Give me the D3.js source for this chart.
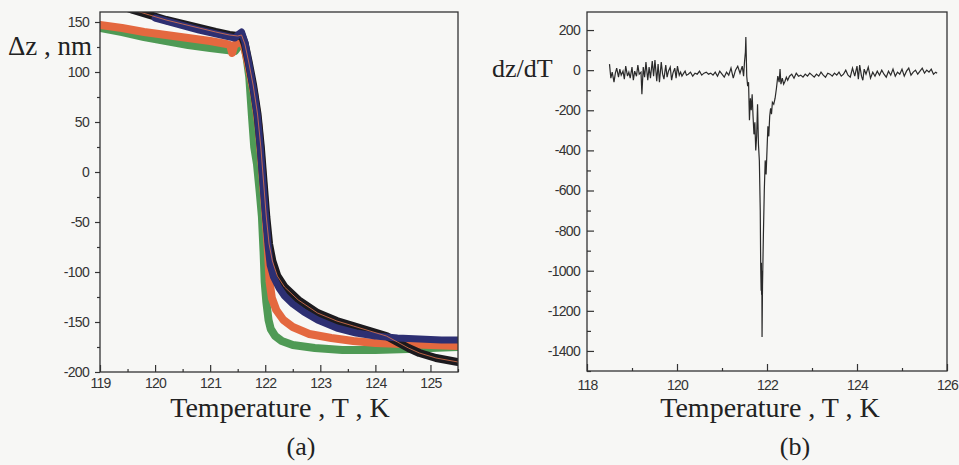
<!doctype html>
<meta charset="utf-8">
<title>Delta z and dz/dT vs temperature</title>
<style>
  body { margin: 0; background: #f7f7f5; }
  svg { display: block; }
  .tick text { font-family: "Liberation Sans", Arial, sans-serif; fill: #333; letter-spacing: -0.7px; }
  .tick line { stroke: #333; stroke-width: 1.2; }
  .title { font-family: "Liberation Serif", "Times New Roman", serif; fill: #222; }
</style>
<svg id="visual" width="959" height="465"></svg>
<script src="https://cdn.jsdelivr.net/npm/d3@7"></script>
<script>

// (panel a data) [T, dz nm]
var blackData = [
  [119.00, 176], [119.30, 168], [119.60, 162], [119.90, 157], [120.20, 152], [120.50, 148],
  [120.80, 144], [121.10, 140], [121.35, 137], [121.50, 136], [121.57, 137], [121.63, 128],
  [121.70, 110], [121.78, 87], [121.86, 58], [121.92, 25], [121.97, -10], [122.02, -45],
  [122.07, -72], [122.13, -89], [122.22, -104], [122.35, -115], [122.60, -128], [122.95, -141],
  [123.30, -149], [123.60, -154], [123.90, -159], [124.20, -164], [124.40, -170], [124.60, -176],
  [124.80, -181], [125.10, -186], [125.50, -190]
];
var blueData = [
  [120.00, 154], [120.40, 148], [120.80, 142], [121.20, 137], [121.45, 134], [121.52, 138],
  [121.57, 140], [121.63, 130], [121.68, 115], [121.73, 100], [121.80, 78], [121.86, 55],
  [121.91, 25], [121.95, -5], [122.00, -40], [122.05, -73], [122.09, -93], [122.15, -105],
  [122.25, -116], [122.35, -124], [122.50, -132], [122.70, -140], [122.95, -148], [123.30, -156],
  [123.65, -161], [124.00, -164], [124.40, -166], [124.80, -167], [125.20, -168], [125.50, -168]
];
var orangeData = [
  [119.00, 147], [119.40, 144], [119.80, 140], [120.20, 137], [120.60, 134], [121.00, 131],
  [121.30, 128], [121.36, 127], [121.40, 119], [121.44, 127], [121.50, 129], [121.56, 131], [121.62, 125],
  [121.70, 105], [121.80, 78], [121.88, 45], [121.94, 5], [122.00, -40], [122.05, -80],
  [122.08, -110], [122.12, -126], [122.20, -138], [122.33, -148], [122.50, -155], [122.80, -162],
  [123.20, -166], [123.60, -169], [124.00, -171], [124.50, -172], [125.00, -173], [125.50, -174]
];
var greenData = [
  [119.00, 144], [119.40, 140], [119.80, 135], [120.20, 131], [120.60, 127], [121.00, 124],
  [121.30, 122], [121.45, 121], [121.52, 126], [121.56, 129], [121.61, 128], [121.66, 115],
  [121.71, 95], [121.76, 55], [121.80, 25], [121.85, 8], [121.90, -20], [121.94, -45],
  [121.97, -80], [121.99, -110], [122.02, -130], [122.06, -148], [122.10, -157], [122.18, -164],
  [122.30, -169], [122.50, -173], [122.90, -176], [123.40, -178], [124.00, -178], [124.60, -177],
  [125.00, -176], [125.50, -175]
];

// (panel b data) [T, dz/dT]
var dzdtData = [
  [118.50, 30], [118.53, -40], [118.56, -10], [118.60, -60], [118.63, -15], [118.66, 10],
  [118.70, -35], [118.73, 5], [118.76, -25], [118.80, -5], [118.83, -45], [118.86, 20],
  [118.90, -30], [118.93, -10], [118.96, -40], [119.00, 15], [119.03, -50], [119.06, -5],
  [119.10, -30], [119.13, 25], [119.16, -20], [119.20, -10], [119.22, -120], [119.25, 15],
  [119.28, -35], [119.31, 40], [119.35, -50], [119.38, 15], [119.41, -40], [119.45, 45],
  [119.48, -30], [119.51, 50], [119.55, -55], [119.58, 30], [119.61, -60], [119.65, 40],
  [119.68, -20], [119.71, -45], [119.75, 25], [119.78, -35], [119.81, -5], [119.85, 15],
  [119.88, -50], [119.91, -15], [119.95, 10], [119.98, -40], [120.01, 20], [120.05, -25],
  [120.08, -10], [120.11, -30], [120.15, -15], [120.18, -5], [120.21, -25], [120.25, -20],
  [120.30, -10], [120.35, -30], [120.40, -15], [120.45, -20], [120.50, -5], [120.55, -25],
  [120.60, -15], [120.65, -10], [120.70, -20], [120.75, -15], [120.80, -25], [120.85, -10],
  [120.90, -30], [120.95, -5], [121.00, -20], [121.05, -35], [121.10, -10], [121.15, -25],
  [121.20, 10], [121.25, -40], [121.30, 0], [121.35, 20], [121.40, -15],
  [121.45, 20], [121.48, -30], [121.50, 40], [121.52, 90], [121.53, 165], [121.55, -30],
  [121.57, -80], [121.59, -60], [121.61, -250], [121.63, -140], [121.65, -200], [121.67, -120],
  [121.69, -230], [121.71, -320], [121.73, -260], [121.75, -400], [121.77, -330], [121.79, -170],
  [121.81, -370], [121.83, -450], [121.85, -700], [121.86, -980], [121.87, -1100], [121.875, -960],
  [121.88, -1120], [121.885, -1000], [121.89, -1330], [121.90, -1080], [121.92, -820], [121.94, -600],
  [121.96, -450], [121.98, -520], [122.00, -400], [122.02, -280], [122.04, -330], [122.06, -230],
  [122.08, -190], [122.10, -220], [122.12, -160], [122.15, -170], [122.18, -140], [122.21, -90],
  [122.24, -30], [122.27, -60], [122.29, 5], [122.31, -70], [122.34, -40], [122.37, -70],
  [122.40, -55], [122.43, -35], [122.46, -50], [122.50, -30], [122.55, -20], [122.60, -40],
  [122.65, -15], [122.70, -30], [122.75, -25], [122.80, -35], [122.85, -20], [122.90, -30],
  [122.95, -15], [123.00, -25], [123.05, -35], [123.10, -20], [123.15, -30], [123.20, -10],
  [123.25, -25], [123.30, -35], [123.35, -15], [123.40, -20], [123.45, -30], [123.50, -15],
  [123.55, -25], [123.60, -10], [123.65, -30], [123.70, -20], [123.75, 0], [123.80, -25],
  [123.85, -35], [123.90, 10], [123.95, -30], [124.00, 20], [124.03, -45], [124.06, 25],
  [124.10, -30], [124.13, -50], [124.16, 5], [124.20, -20], [124.25, 15], [124.30, -40],
  [124.35, -10], [124.40, -30], [124.45, -5], [124.50, -25], [124.55, 0], [124.60, -20],
  [124.65, -35], [124.70, -5], [124.75, -25], [124.80, 5], [124.85, -30], [124.90, -10],
  [124.95, -20], [125.00, 5], [125.05, -30], [125.10, -5], [125.15, 10], [125.20, -25],
  [125.25, -10], [125.30, 0], [125.35, -20], [125.40, -5], [125.45, 10], [125.50, -15],
  [125.55, 0], [125.60, -10], [125.65, 5], [125.70, -20], [125.75, -10], [125.78, -15]
];

// (ticks)
var aXTicks = [119, 120, 121, 122, 123, 124, 125];
var aXMinor = [119.5, 120.5, 121.5, 122.5, 123.5, 124.5, 125.5];
var aYTicks = [-200, -150, -100, -50, 0, 50, 100, 150];
var aYMinor = [-175, -125, -75, -25, 25, 75, 125];
var bXTicks = [118, 120, 122, 124, 126];
var bXMinor = [119, 121, 123, 125];
var bYTicks = [-1400, -1200, -1000, -800, -600, -400, -200, 0, 200];
var bYMinor = [-1500, -1300, -1100, -900, -700, -500, -300, -100, 100];

var svg = d3.select("#visual");

// (panel a scales)
var xa = d3.scaleLinear().domain([119, 125.5]).range([100, 458]);
var ya = d3.scaleLinear().domain([-200, 160]).range([372, 12]);

// (panel b scales)
var xb = d3.scaleLinear().domain([118, 126]).range([587, 947]);
var yb = d3.scaleLinear().domain([-1500, 290]).range([371, 12]);

svg.append("clipPath").attr("id", "clipA")
  .append("rect").attr("x", 100).attr("y", 12).attr("width", 358).attr("height", 360);

var lineA = d3.line()
  .x(function(d) { return xa(d[0]); })
  .y(function(d) { return ya(d[1]); });

var gA = svg.append("g").attr("clip-path", "url(#clipA)");

var seriesA = [
  {data: greenData, color: "#4f9a55", w: 8},
  {data: orangeData, color: "#e4683f", w: 8},
  {data: blackData, color: "#1c1a1e", w: 8},
  {data: blueData, color: "#2d2f72", w: 7}
];

seriesA.forEach(function(s) {
  gA.append("path")
    .attr("d", lineA(s.data))
    .attr("fill", "none")
    .attr("stroke", s.color)
    .attr("stroke-width", s.w)
    .attr("stroke-linejoin", "round")
    .attr("stroke-linecap", "round");
});

// thin fit line on top
gA.append("path")
  .attr("d", lineA(blackData))
  .attr("fill", "none")
  .attr("stroke", "#e2764e")
  .attr("stroke-width", 1)
  .attr("opacity", 0.8);

// (panel b line)
var lineB = d3.line()
  .x(function(d) { return xb(d[0]); })
  .y(function(d) { return yb(d[1]); });

svg.append("path")
  .attr("d", lineB(dzdtData))
  .attr("fill", "none")
  .attr("stroke", "#2a2a2a")
  .attr("stroke-width", 1.2);

// (axes helper)
var fmt = function(d) { return String(d); };

function addAxis(axis, tx, ty) {
  var g = svg.append("g").attr("transform", "translate(" + tx + "," + ty + ")").call(axis);
  g.select(".domain").remove();
  g.selectAll(".tick text").attr("font-size", 14).attr("font-family", null);
  return g;
}

// panel a axes
addAxis(d3.axisBottom(xa).tickValues(aXTicks).tickSize(-7).tickPadding(6).tickFormat(fmt), 0, 372);
addAxis(d3.axisBottom(xa).tickValues(aXMinor).tickSize(-3).tickFormat(""), 0, 372);
addAxis(d3.axisLeft(ya).tickValues(aYTicks).tickSize(5).tickPadding(6).tickFormat(fmt), 100, 0);
addAxis(d3.axisLeft(ya).tickValues(aYMinor).tickSize(3).tickFormat(""), 100, 0);

// panel b axes
addAxis(d3.axisBottom(xb).tickValues(bXTicks).tickSize(-7).tickPadding(9).tickFormat(fmt), 0, 371);
addAxis(d3.axisBottom(xb).tickValues(bXMinor).tickSize(-3).tickFormat(""), 0, 371);
addAxis(d3.axisLeft(yb).tickValues(bYTicks).tickSize(-7).tickPadding(7).tickFormat(fmt), 587, 0);
addAxis(d3.axisLeft(yb).tickValues(bYMinor).tickSize(-4).tickFormat(""), 587, 0);

// frames
svg.append("rect").attr("x", 100).attr("y", 12).attr("width", 358).attr("height", 360)
  .attr("fill", "none").attr("stroke", "#333").attr("stroke-width", 1.3);
svg.append("rect").attr("x", 587).attr("y", 12).attr("width", 360).attr("height", 359)
  .attr("fill", "none").attr("stroke", "#333").attr("stroke-width", 1.3);

// (titles)
var titles = [
  {x: 8, y: 55, text: "\u0394z , nm", size: 27, anchor: "start"},
  {x: 492, y: 77, text: "dz/dT", size: 26, anchor: "start"},
  {x: 280, y: 417, text: "Temperature , T , K", size: 28, anchor: "middle"},
  {x: 770, y: 417, text: "Temperature , T , K", size: 28, anchor: "middle"},
  {x: 301, y: 455, text: "(a)", size: 26, anchor: "middle"},
  {x: 795, y: 455, text: "(b)", size: 26, anchor: "middle"}
];

svg.selectAll("text.title")
  .data(titles)
  .enter()
  .append("text")
  .attr("class", "title")
  .attr("x", function(d) { return d.x; })
  .attr("y", function(d) { return d.y; })
  .attr("font-size", function(d) { return d.size; })
  .attr("text-anchor", function(d) { return d.anchor; })
  .text(function(d) { return d.text; });

</script>
